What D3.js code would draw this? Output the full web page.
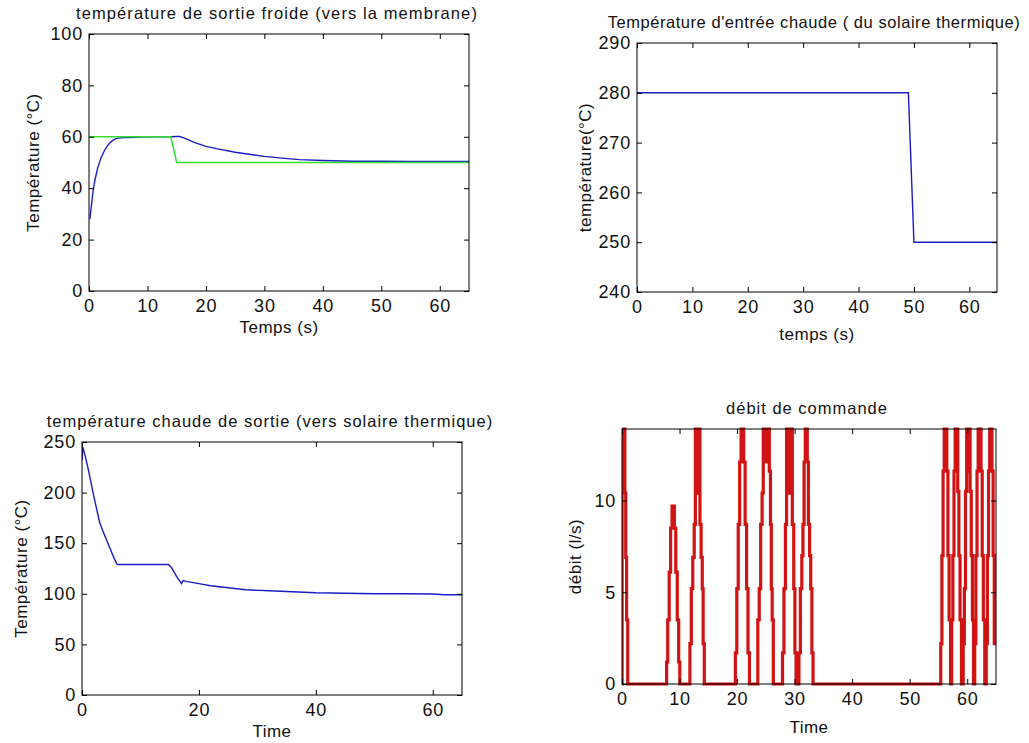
<!DOCTYPE html>
<html>
<head>
<meta charset="utf-8">
<script src="https://cdn.jsdelivr.net/npm/d3@7"></script>
<style>
  body { margin: 0; background: #fff; }
  text { font-family: "Liberation Sans", Arial, sans-serif; fill: #111; }
  .tick text { font-size: 18px; letter-spacing: 0.8px; }
  .tick line { stroke: #000; }
  .title { font-size: 16.5px; }
  .label { font-size: 17px; letter-spacing: 0.5px; }
</style>
</head>
<body>
<div id="chart"></div>
<script>
////////
// Data

// top left: cold outlet temperature (blue) and set point (green)
let froideT = [0.15, 0.4, 0.7, 1, 1.5, 2, 2.5, 3, 3.5, 4, 4.5, 5, 5.5, 6, 6.6, 10, 14, 15, 15.5, 16, 17, 18, 20, 22, 25, 28, 30, 33, 36, 40, 45, 50, 55, 60, 65];
let froideV = [28, 33, 39, 43, 48, 51.5, 54, 56, 57.5, 58.5, 59.2, 59.5, 59.6, 59.7, 59.7, 60, 60, 60.1, 60.1, 59.8, 58.8, 57.8, 56.3, 55.3, 54, 53, 52.4, 51.7, 51.1, 50.8, 50.5, 50.5, 50.4, 50.4, 50.4];
let consigneT = [0, 14, 15, 65];
let consigneV = [60, 60, 50, 50];

// top right: hot inlet temperature
let entreeT = [0, 49, 50, 65];
let entreeV = [280, 280, 250, 250];

// bottom left: hot outlet temperature
let chaudeT = [0, 0.15, 0.6, 1, 1.5, 2, 2.5, 3, 3.5, 4, 4.5, 5, 5.5, 6, 10, 14.8, 15.3, 15.8, 16.3, 16.8, 17.0, 17.3, 18, 20, 22, 25, 28, 32, 36, 40, 45, 50, 55, 60, 62, 65];
let chaudeV = [232, 245, 235, 225, 211, 197, 184, 171, 163, 156, 149, 142, 135, 129, 129, 129, 126, 121, 116, 112, 110, 113, 112, 110, 108, 106, 104, 103, 102, 101, 100.5, 100, 100, 99.8, 99, 99];

// bottom right: command flow (steps, value holds from t until next t)
let debitT = [
  0, 0.02, 0.5, 0.65, 0.8, 1.0,
  7.75, 7.95, 8.2, 8.45, 8.7, 9.1, 9.35, 9.6, 9.85, 10.05,
  11.8, 12.05, 12.3, 12.55, 12.75, 12.9, 13.05, 13.2, 13.35, 13.55, 13.75, 13.95, 14.1, 14.3,
  19.7, 19.95, 20.2, 20.45, 20.7, 21.15, 21.4, 21.65, 21.9, 22.15,
  23.6, 23.85, 24.1, 24.35, 24.55, 24.75, 24.95, 25.15, 25.35, 25.6, 25.8, 25.95, 26.1, 26.3,
  27.9, 28.15, 28.4, 28.6, 28.8, 29.0, 29.2, 29.4, 29.6, 29.85, 30.05, 30.25,
  30.75, 31.0, 31.25, 31.45, 31.65, 31.85, 32.2, 32.4, 32.6, 32.8, 33.0, 33.2,
  55.4, 55.6, 55.8, 56.0, 56.45, 56.65, 56.85, 57.1,
  57.3, 57.5, 57.7, 57.9, 58.35, 58.55, 58.75, 59.0,
  59.3, 59.5, 59.7, 59.9, 60.15, 60.3, 60.5, 60.7, 60.9, 61.1,
  61.3, 61.5, 61.7, 61.9, 62.4, 62.6, 62.8, 63.05,
  63.3, 63.5, 63.7, 63.9, 64.3, 64.5, 64.7, 65
];
let debitV = [
  0, 13.9, 10.4, 6.9, 3.5, 0,
  1.2, 3.5, 6.1, 8.5, 9.7, 8.5, 6.1, 3.5, 1.2, 0,
  2.2, 5.2, 6.9, 8.7, 13.9, 10.4, 13.9, 12.1, 13.9, 8.7, 6.9, 5.2, 2.2, 0,
  1.7, 5.2, 8.7, 12.1, 13.9, 12.1, 8.7, 5.2, 1.7, 0,
  3.5, 5.2, 8.7, 10.4, 13.9, 12.1, 13.9, 12.1, 13.9, 11.6, 8.7, 5.2, 3.5, 0,
  1.7, 5.2, 8.7, 13.9, 10.4, 13.9, 10.4, 13.9, 8.7, 5.2, 1.7, 0,
  1.7, 5.2, 7.0, 8.7, 12.1, 13.9, 12.1, 8.7, 7.0, 5.2, 1.7, 0,
  2.2, 7.0, 11.6, 13.9, 11.6, 7.0, 3.5, 0,
  3.5, 7.0, 11.6, 13.9, 10.5, 7.0, 3.5, 0,
  2.2, 5.2, 10.5, 13.9, 11.6, 13.9, 10.5, 7.0, 3.5, 0,
  2.2, 7.0, 11.6, 13.9, 11.6, 7.0, 3.5, 0,
  2.2, 7.0, 11.6, 13.9, 11.6, 7.0, 2.2, 2.2
];

// tick labels
let ticksTemps10 = [0, 10, 20, 30, 40, 50, 60];
let ticksTemps20 = [0, 20, 40, 60];
let ticksFroide = [0, 20, 40, 60, 80, 100];
let ticksEntree = [240, 250, 260, 270, 280, 290];
let ticksChaude = [0, 50, 100, 150, 200, 250];
let ticksDebit = [0, 5, 10];


////////
// SVG canvas
let svg_width = 1029;
let svg_height = 743;

let svg = d3.select("#chart")
  .append("svg")
  .attr("width", svg_width)
  .attr("height", svg_height);

let clipId = 0;

function zip(ts, vs) {
  return ts.map((t, i) => [t, vs[i]]);
}

////////
// One MATLAB-like subplot: boxed axes, inward ticks on all four sides
function panel(o) {
  let x = d3.scaleLinear().domain([0, 65]).range([o.left, o.right]);
  let y = d3.scaleLinear().domain(o.yDomain).range([o.bottom, o.top]);

  let id = "clip" + (clipId++);
  svg.append("clipPath").attr("id", id)
    .append("rect")
    .attr("x", o.left).attr("y", o.top - 2)
    .attr("width", o.right - o.left).attr("height", o.bottom - o.top + 4);

  let plot = svg.append("g").attr("clip-path", `url(#${id})`);
  o.series.forEach(s => {
    let line = d3.line()
      .x(d => x(d[0]))
      .y(d => y(d[1]));
    if (s.step) line.curve(d3.curveStepAfter);
    plot.append("path")
      .datum(zip(s.t, s.v))
      .attr("fill", "none")
      .attr("stroke", s.color)
      .attr("stroke-width", s.width)
      .attr("d", line);
  });

  svg.append("rect")
    .attr("x", o.left).attr("y", o.top)
    .attr("width", o.right - o.left).attr("height", o.bottom - o.top)
    .attr("fill", "none").attr("stroke", "#000").attr("stroke-width", 1);

  let bottom = svg.append("g")
    .attr("transform", `translate(0,${o.bottom})`)
    .call(d3.axisBottom(x).tickValues(o.xTicks).tickSize(-5).tickPadding(8));
  let left = svg.append("g")
    .attr("transform", `translate(${o.left},0)`)
    .call(d3.axisLeft(y).tickValues(o.yTicks).tickSize(-5).tickPadding(6));
  let top = svg.append("g")
    .attr("transform", `translate(0,${o.top})`)
    .call(d3.axisTop(x).tickValues(o.xTicks).tickSize(-5).tickFormat(""));
  let right = svg.append("g")
    .attr("transform", `translate(${o.right},0)`)
    .call(d3.axisRight(y).tickValues(o.yTicks).tickSize(-5).tickFormat(""));
  [bottom, left, top, right].forEach(g => {
    g.select(".domain").remove();
    g.attr("font-family", null).attr("font-size", null);
  });

  svg.append("text").attr("class", "title")
    .attr("x", o.titleX).attr("y", o.top - 15)
    .attr("text-anchor", "middle")
    .style("letter-spacing", o.titleSpacing + "px")
    .text(o.title);
  svg.append("text").attr("class", "label")
    .attr("x", (o.left + o.right) / 2).attr("y", o.bottom + o.xLabelGap)
    .attr("text-anchor", "middle")
    .text(o.xLabel);
  svg.append("text").attr("class", "label")
    .attr("transform", `translate(${o.yLabelX},${(o.top + o.bottom) / 2}) rotate(-90)`)
    .attr("text-anchor", "middle")
    .attr("dy", "0.35em")
    .text(o.yLabel);
}

let blue = "#1c1cc4";

panel({
  left: 89, right: 469, top: 34, bottom: 291,
  yDomain: [0, 100], xTicks: ticksTemps10, yTicks: ticksFroide,
  title: "température de sortie froide (vers la membrane)",
  titleX: 277, titleSpacing: 1.1,
  xLabel: "Temps (s)", xLabelGap: 42,
  yLabel: "Température (°C)", yLabelX: 33,
  series: [
    { t: froideT, v: froideV, color: blue, width: 1.4 },
    { t: consigneT, v: consigneV, color: "#2fe02f", width: 1.5 }
  ]
});

panel({
  left: 637, right: 997, top: 43, bottom: 292,
  yDomain: [240, 290], xTicks: ticksTemps10, yTicks: ticksEntree,
  title: "Température d'entrée chaude ( du solaire thermique)",
  titleX: 814, titleSpacing: 0.55,
  xLabel: "temps (s)", xLabelGap: 48,
  yLabel: "température(°C)", yLabelX: 585,
  series: [
    { t: entreeT, v: entreeV, color: blue, width: 1.4 }
  ]
});

panel({
  left: 82, right: 462, top: 442, bottom: 695,
  yDomain: [0, 250], xTicks: ticksTemps20, yTicks: ticksChaude,
  title: "température chaude de sortie (vers solaire thermique)",
  titleX: 270, titleSpacing: 1.0,
  xLabel: "Time", xLabelGap: 42,
  yLabel: "Température (°C)", yLabelX: 21,
  series: [
    { t: chaudeT, v: chaudeV, color: blue, width: 1.4 }
  ]
});

panel({
  left: 622, right: 996, top: 429, bottom: 684,
  yDomain: [0, 13.9], xTicks: ticksTemps10, yTicks: ticksDebit,
  title: "débit de commande",
  titleX: 807, titleSpacing: 1.0,
  xLabel: "Time", xLabelGap: 49,
  yLabel: "débit (l/s)", yLabelX: 575,
  series: [
    { t: debitT, v: debitV, color: "#d01414", width: 3.2, step: true }
  ]
});
</script>
</body>
</html>
